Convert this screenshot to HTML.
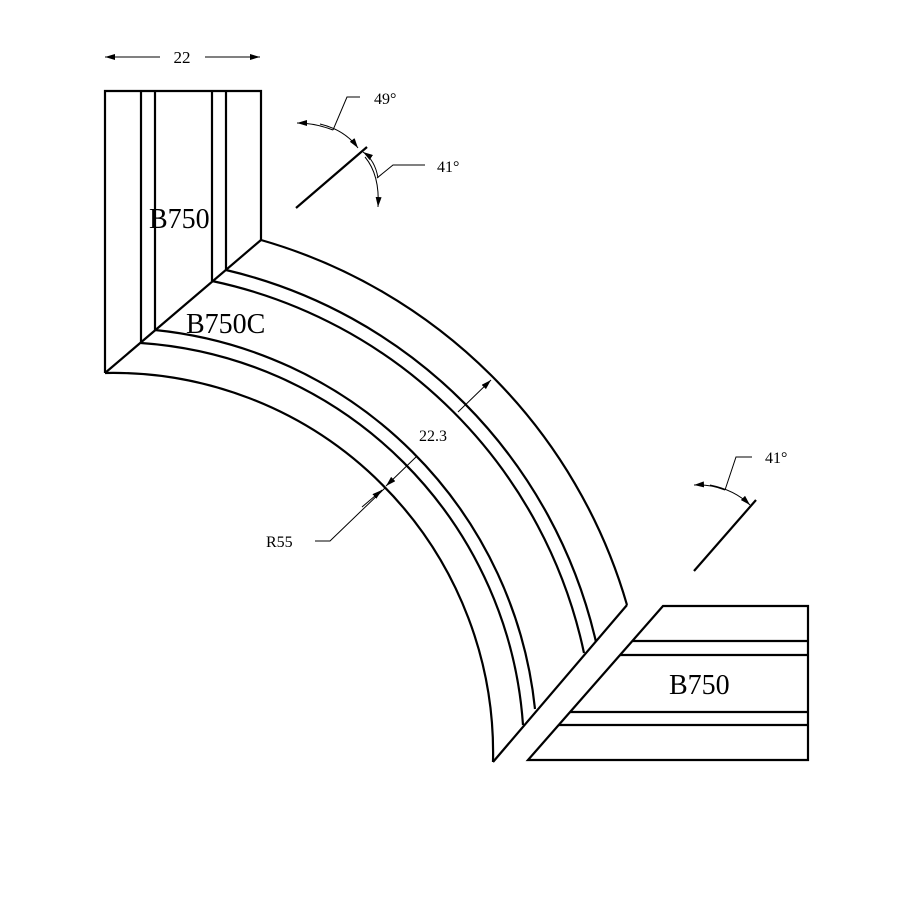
<!DOCTYPE html>
<html><head><style>body{margin:0;background:#fff}svg{display:block}</style></head>
<body>
<svg width="900" height="900" viewBox="0 0 900 900" xmlns="http://www.w3.org/2000/svg">
<defs>
<marker id="a" viewBox="0 0 10 6" refX="10" refY="3" markerWidth="10" markerHeight="6" orient="auto" markerUnits="userSpaceOnUse"><path d="M0,0 L10,3 L0,6 z" fill="#000"/></marker>
</defs>
<g fill="none" stroke="#000" stroke-width="2.2">
<path d="M105,373 V91 H261 V240"/>
<line x1="141" y1="91" x2="141" y2="343"/>
<line x1="155" y1="91" x2="155" y2="330"/>
<line x1="212" y1="91" x2="212" y2="281"/>
<line x1="226" y1="91" x2="226" y2="270"/>
<line x1="105" y1="373" x2="261" y2="240"/>
<path d="M105,373 A380,380 0 0 1 493,762"/>
<path d="M141,343 A411,411 0 0 1 523,725"/>
<path d="M155,330 A425,425 0 0 1 535,709"/>
<path d="M212,281 A482,482 0 0 1 584,653"/>
<path d="M226,270 A496,496 0 0 1 596,642"/>
<path d="M261,240 A534,534 0 0 1 627,605"/>
<line x1="493" y1="762" x2="627" y2="605"/>
<path d="M528,760 L663,606 H808 V760 Z"/>
<line x1="632" y1="641" x2="808" y2="641"/>
<line x1="620" y1="655" x2="808" y2="655"/>
<line x1="570" y1="712" x2="808" y2="712"/>
<line x1="559" y1="725" x2="808" y2="725"/>
<line x1="296" y1="208" x2="367" y2="147"/>
<line x1="694" y1="571" x2="756" y2="500"/>
</g>
<g fill="none" stroke="#000" stroke-width="1">
<line x1="160" y1="57" x2="105" y2="57" marker-end="url(#a)"/>
<line x1="205" y1="57" x2="260" y2="57" marker-end="url(#a)"/>
<path d="M333,130 Q315,123 297,123" marker-end="url(#a)"/>
<path d="M320,124 Q345,130 358,148" marker-end="url(#a)"/>
<path d="M378,178 Q375,160 363,152" marker-end="url(#a)"/>
<path d="M365,157 Q380,175 378,207" marker-end="url(#a)"/>
<polyline points="333,130 347,97 360,97"/>
<polyline points="377,178 393,165 425,165"/>
<path d="M725,490 Q710,484 694,485" marker-end="url(#a)"/>
<path d="M710,485 Q735,490 750,505" marker-end="url(#a)"/>
<polyline points="725,490 736,457 752,457"/>
<polyline points="315,541 330,541 385,488"/>
<line x1="362" y1="507" x2="382" y2="490" marker-end="url(#a)"/>
<line x1="416" y1="457" x2="386" y2="486" marker-end="url(#a)"/>
<line x1="458" y1="412" x2="491" y2="380" marker-end="url(#a)"/>
</g>
<g font-family="Liberation Serif, serif" fill="#000">
<text x="182" y="63" font-size="17" text-anchor="middle">22</text>
<text x="374" y="104" font-size="16">49°</text>
<text x="437" y="172" font-size="16">41°</text>
<text x="765" y="463" font-size="16">41°</text>
<text x="419" y="441" font-size="16">22.3</text>
<text x="266" y="547" font-size="16">R55</text>
<text x="149" y="228" font-size="28">B750</text>
<text x="186" y="333" font-size="28">B750C</text>
<text x="669" y="694" font-size="28">B750</text>
</g>
</svg>
</body></html>
